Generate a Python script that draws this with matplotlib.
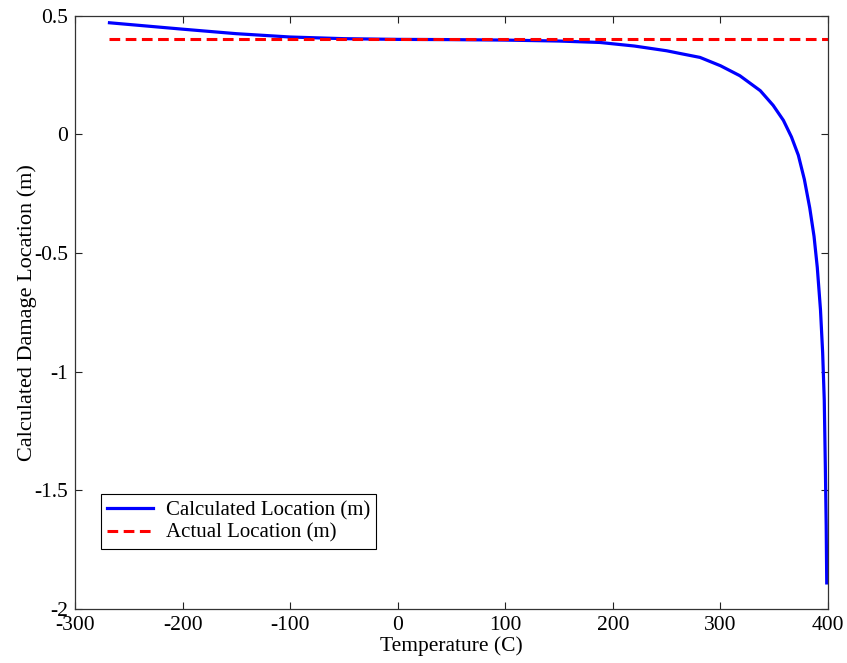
import numpy as np
import matplotlib
matplotlib.use("Agg")
import matplotlib.pyplot as plt

# values
temp = [-268, -200, -150, -100, -50, 0, 50, 100, 150, 188, 220, 250, 262,
        281, 300, 318, 337, 349, 358.5, 366, 372.4, 378, 383, 387, 390,
        393, 395, 396.5, 397.5, 398.3, 398.8]
calc_loc = [0.47, 0.443, 0.424, 0.41, 0.403, 0.40, 0.399, 0.397, 0.393,
            0.387, 0.372, 0.352, 0.341, 0.324, 0.289, 0.247, 0.184, 0.122,
            0.059, -0.011, -0.088, -0.19, -0.31, -0.43, -0.56, -0.74,
            -0.92, -1.12, -1.40, -1.65, -1.89]
actual_x = [-268, 400]
actual_loc = [0.4, 0.4]

xticks = [-300, -200, -100, 0, 100, 200, 300, 400]
yticks = [-2, -1.5, -1, -0.5, 0, 0.5]
ytick_labels = ['-2', '-1.5', '-1', '-0.5', '0', '0.5']

plt.rcParams['font.family'] = ['Liberation Serif', 'DejaVu Serif']
plt.rcParams['font.size'] = 15.5

fig = plt.figure(figsize=(8.47, 6.63), dpi=100)
ax = fig.add_axes([0.0886, 0.0814, 0.889, 0.895])

ax.plot(temp, calc_loc, color='#0000ff', lw=2.3, label='Calculated Location (m)')
ax.plot(actual_x, actual_loc, color='#ff0000', lw=2.2, dashes=(3.5, 1.8),
        label='Actual Location (m)')

ax.set_xlim(-300, 400)
ax.set_ylim(-2, 0.5)
ax.set_xticks(xticks)
ax.set_xticklabels([str(t) for t in xticks])
ax.set_yticks(yticks)
ax.set_yticklabels(ytick_labels)
ax.tick_params(direction='in', top=True, right=True, length=5, width=0.8,
               color='#222222', pad=5)
for s in ax.spines.values():
    s.set_color('#333333')
    s.set_linewidth(0.9)

ax.set_xlabel('Temperature (C)', labelpad=1)
ax.set_ylabel('Calculated Damage Location (m)', labelpad=-2, fontsize=16)

leg = ax.legend(loc='lower left', bbox_to_anchor=(0.0345, 0.101),
                borderaxespad=0, fancybox=False, framealpha=1,
                edgecolor='#000000', handlelength=2.2, borderpad=0.3,
                labelspacing=0.15, handletextpad=0.6, fontsize=15)
leg.get_frame().set_linewidth(0.8)

fig.savefig('out.png', dpi=100)
